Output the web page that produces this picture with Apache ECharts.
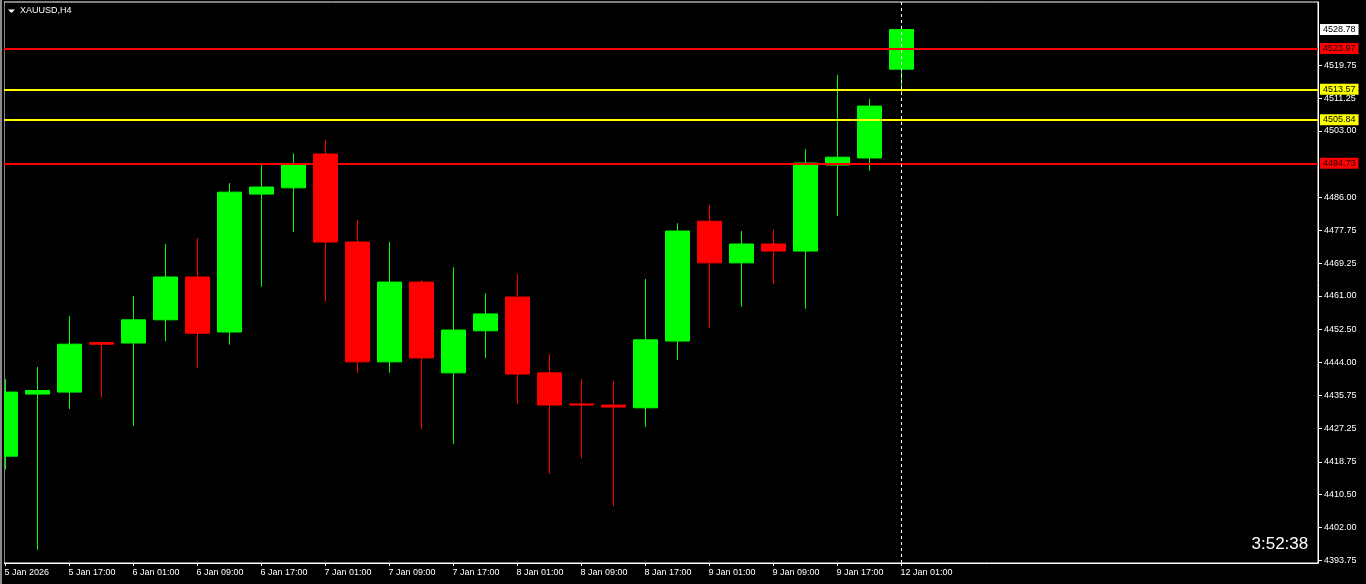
<!DOCTYPE html>
<html>
<head>
<meta charset="utf-8">
<script src="https://cdn.jsdelivr.net/npm/echarts@6/dist/echarts.min.js"></script>
<style>
html,body{margin:0;padding:0;background:#000;}
#chart{width:1366px;height:584px;}
</style>
</head>
<body>
<div id="chart"></div>
<script>
// ---- data (XAUUSD H4) ----
var times = ["5 Jan 09:00","5 Jan 13:00","5 Jan 17:00","5 Jan 21:00","6 Jan 01:00","6 Jan 05:00","6 Jan 09:00","6 Jan 13:00",
  "6 Jan 17:00","6 Jan 21:00","7 Jan 01:00","7 Jan 05:00","7 Jan 09:00","7 Jan 13:00","7 Jan 17:00","7 Jan 21:00",
  "8 Jan 01:00","8 Jan 05:00","8 Jan 09:00","8 Jan 13:00","8 Jan 17:00","8 Jan 21:00","9 Jan 01:00","9 Jan 05:00",
  "9 Jan 09:00","9 Jan 13:00","9 Jan 17:00","9 Jan 21:00","12 Jan 01:00"];
var opens  = [4420.2,4436.0,4436.5,4449.1,4449.0,4454.9,4465.8,4451.8,4486.9,4488.5,4497.1,4474.7,4444.2,4464.5,4441.4,4452.1,
  4460.7,4441.4,4433.5,4433.2,4432.5,4449.5,4480.0,4469.4,4474.2,4472.4,4494.3,4496.1,4518.7];
var closes = [4436.5,4436.9,4448.7,4448.7,4454.9,4465.8,4451.5,4487.4,4488.7,4494.6,4474.7,4444.2,4464.5,4445.2,4452.3,4456.4,
  4441.1,4433.2,4433.2,4432.7,4449.8,4477.5,4469.4,4474.2,4472.4,4494.8,4496.3,4509.3,4528.78];
var lows   = [4416.8,4396.4,4432.2,4435.1,4427.9,4449.5,4442.7,4448.6,4463.3,4477.3,4459.5,4441.4,4441.4,4427.1,4423.3,4445.2,
  4433.5,4415.7,4419.7,4407.5,4427.6,4444.7,4452.9,4458.2,4464.0,4457.7,4481.3,4492.8,4512.1];
var highs  = [4439.8,4442.9,4455.9,4449.3,4461.0,4474.2,4475.7,4489.7,4494.3,4497.3,4500.7,4480.3,4474.7,4465.0,4468.3,4461.7,
  4466.6,4446.2,4439.8,4439.3,4465.3,4479.5,4484.1,4477.5,4477.8,4498.4,4517.2,4511.1,4528.78];

var xTickLabels = ["5 Jan 2026","5 Jan 17:00","6 Jan 01:00","6 Jan 09:00","6 Jan 17:00","7 Jan 01:00","7 Jan 09:00",
  "7 Jan 17:00","8 Jan 01:00","8 Jan 09:00","8 Jan 17:00","9 Jan 01:00","9 Jan 09:00","9 Jan 17:00","12 Jan 01:00"];
var yTickValues = [4519.75,4511.25,4503.00,4486.00,4477.75,4469.25,4461.00,4452.50,4444.00,4435.75,4427.25,4418.75,4410.50,4402.00,4393.75];

var redLevels = [4523.97, 4494.73];
var yellowLevels = [4513.57, 4505.84];
var currentPrice = 4528.78;
var symbolTitle = "XAUUSD,H4";
var countdown = "3:52:38";

// ---- build ----
var candleData = times.map(function(t, i){ return [i, opens[i], closes[i], lows[i], highs[i]]; });
var xTickIdx = xTickLabels.map(function(_, i){ return i * 2; });
var labelByIdx = {};
xTickIdx.forEach(function(v, i){ labelByIdx[v] = xTickLabels[i]; });
var lastIdx = times.length - 1;

function levelLine(v, color, textColor){
  return {
    yAxis: v,
    lineStyle: {color: color, width: 2, type: 'solid'},
    label: {show: true, position: 'end', distance: 2, formatter: v.toFixed(2),
      backgroundColor: color, color: textColor, padding: [1,3,1,3],
      fontFamily: 'Liberation Sans', fontSize: 9, lineHeight: 9}
  };
}
var markData = [];
redLevels.forEach(function(v){ markData.push(levelLine(v, '#ff0000', '#1a0000')); });
yellowLevels.forEach(function(v){ markData.push(levelLine(v, '#ffff00', '#000000')); });
var cur = levelLine(currentPrice, '#ffffff', '#000000');
cur.lineStyle = {color: 'rgba(0,0,0,0)', width: 0};
cur.label.backgroundColor = '#ffffff';
markData.push(cur);
markData.push({xAxis: lastIdx, lineStyle: {color: '#ffffff', width: 1, type: [3,3]}, label: {show: false}});

var chart = echarts.init(document.getElementById('chart'), null, {renderer: 'canvas'});
var gridLeft = 4, gridRight = 48, gridTop = 2, gridBottom = 21;
var plotW = 1366 - gridLeft - gridRight;
var xMin = -(5.4 - gridLeft) / 32;
var xMax = xMin + plotW / 32;

chart.setOption({
  backgroundColor: '#000000',
  animation: false,
  textStyle: {fontFamily: 'Liberation Sans'},
  grid: {left: gridLeft, right: gridRight, top: gridTop, bottom: gridBottom, show: true, borderColor: '#ffffff', borderWidth: 1},
  xAxis: {
    type: 'value', min: xMin, max: xMax,
    axisLine: {show: true, onZero: false, lineStyle: {color: '#ffffff', width: 1}},
    axisTick: {show: true, customValues: xTickIdx, length: 3, lineStyle: {color: '#ffffff'}},
    splitLine: {show: false},
    axisLabel: {customValues: xTickIdx, color: '#ffffff', fontSize: 9, lineHeight: 9, margin: 5, align: 'left',
      padding: [0,0,0,-1],
      formatter: function(v){ return labelByIdx[Math.round(v)] || ''; }}
  },
  yAxis: {
    type: 'value', position: 'right', min: 4393.0, max: 4535.8,
    axisLine: {show: true, onZero: false, lineStyle: {color: '#ffffff', width: 1}},
    axisTick: {show: true, customValues: yTickValues, length: 4, lineStyle: {color: '#ffffff'}},
    splitLine: {show: false},
    axisLabel: {customValues: yTickValues, color: '#ffffff', fontSize: 9, margin: 6,
      formatter: function(v){ return v.toFixed(2); }}
  },
  series: [{
    type: 'candlestick',
    data: candleData,
    encode: {x: 0, y: [1,2,3,4]},
    barWidth: 24,
    clip: true,
    itemStyle: {color: '#00ff00', color0: '#ff0000', borderColor: '#00ff00', borderColor0: '#ff0000', borderWidth: 1},
    markLine: {symbol: 'none', silent: true, animation: false, data: markData}
  }],
  graphic: [
    {type: 'rect', z: 100, shape: {x: 0, y: 0, width: 4, height: 584}, style: {fill: '#000000'}},
    {type: 'rect', z: 101, shape: {x: 0, y: 0, width: 2, height: 584}, style: {fill: '#8c8c8c'}},
    {type: 'polygon', z: 101, shape: {points: [[8,9.5],[15,9.5],[11.5,13]]}, style: {fill: '#ffffff'}},
    {type: 'text', z: 101, x: 20, y: 10.7, style: {text: symbolTitle, fill: '#ffffff', font: '9px "Liberation Sans"', textVerticalAlign: 'middle'}},
    {type: 'text', z: 101, x: 1251.5, y: 544, style: {text: countdown, fill: '#ffffff', font: '17px "Liberation Sans"', textVerticalAlign: 'middle'}}
  ]
});
</script>
</body>
</html>
